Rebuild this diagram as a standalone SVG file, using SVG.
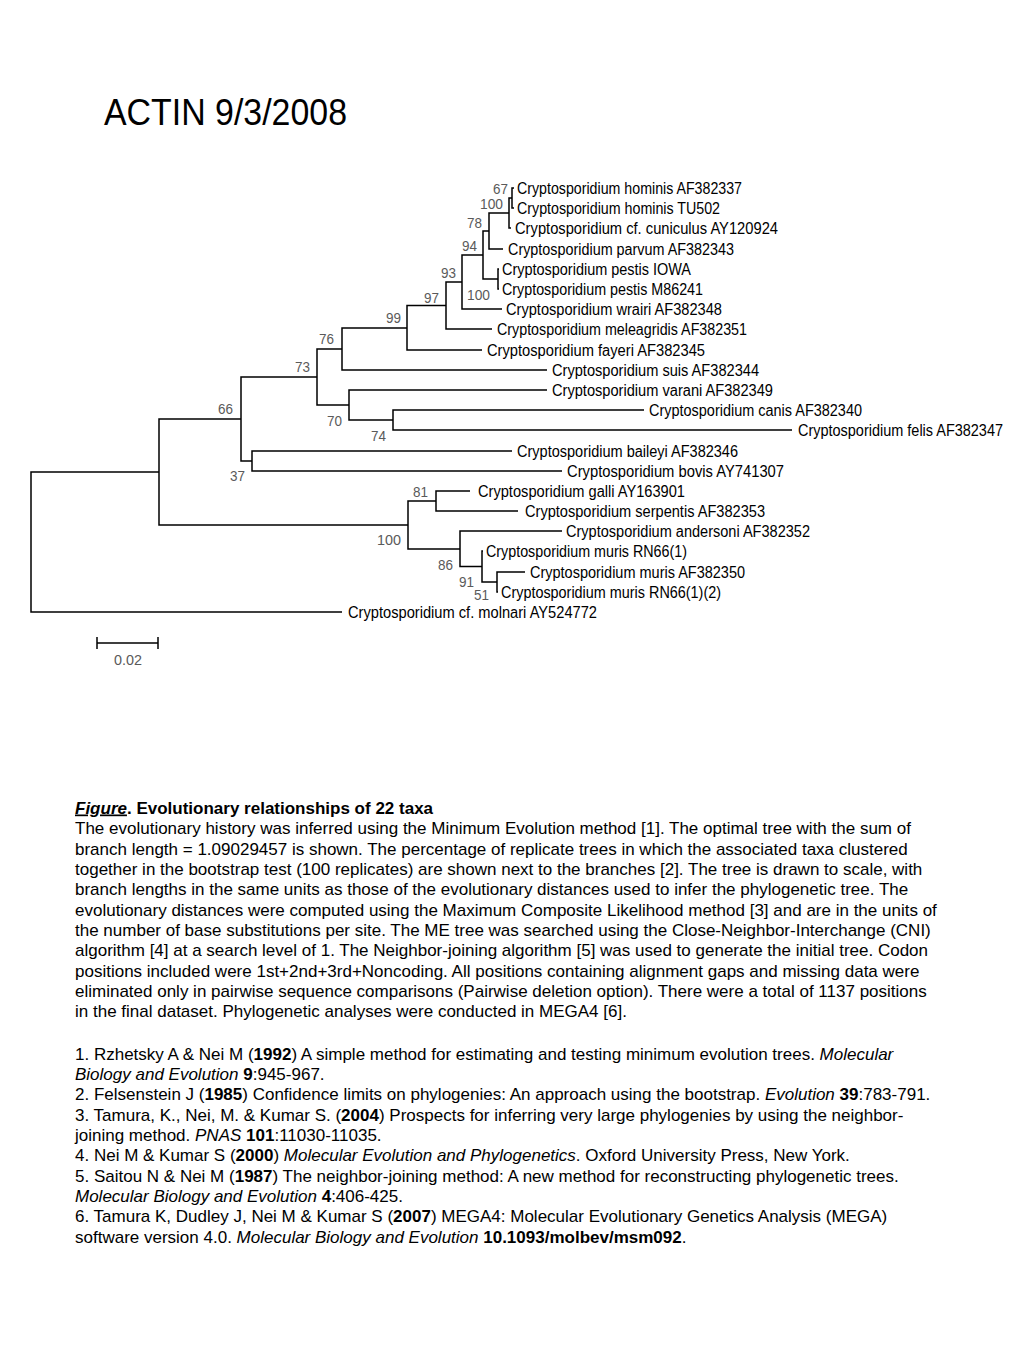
<svg xmlns="http://www.w3.org/2000/svg" width="1024" height="1365" viewBox="0 0 1024 1365">
<style>
text{font-family:"Liberation Sans",Arial,sans-serif;}
.title{font-size:36px;fill:#000;}
.leaf{font-size:16px;fill:#000;}
.bs{font-size:15.5px;fill:#5a5a5a;text-anchor:end;}
.cap{font-size:17px;fill:#000;}
.b{font-weight:bold;}
.i{font-style:italic;}
.tree{fill:none;stroke:#000;stroke-width:1.5;}
</style>
<rect width="1024" height="1365" fill="#fff"/>
<text class="title" x="104" y="125" textLength="243" lengthAdjust="spacingAndGlyphs">ACTIN 9/3/2008</text>

<g id="connectors" class="tree">
<path d="M514 188H512V208H514"/>
<path d="M512 198H509V228H511"/>
<path d="M509 213H489V249H503"/>
<path d="M499 269H498V289H499"/>
<path d="M489 231H483V279H498"/>
<path d="M483 255H462V309H502"/>
<path d="M462 282H446V329H492"/>
<path d="M446 305.5H407V350H482"/>
<path d="M407 328H342V370H547"/>
<path d="M644 410H393V430H792"/>
<path d="M547 390H349V420H393"/>
<path d="M342 349H317V405H349"/>
<path d="M512 451H252V471H562"/>
<path d="M317 377H241V461H252"/>
<path d="M470 491H436V511H518"/>
<path d="M525 572H497V592H498"/>
<path d="M483 551H482V582H497"/>
<path d="M562 531H460V566.5H482"/>
<path d="M436 501H408V549H460"/>
<path d="M241 419H159V525H408"/>
<path d="M159 472H31V612H342"/>
</g>

<g id="taxa">
<g id="t-hominis-AF382337"><text class="leaf" x="517" y="194" textLength="225" lengthAdjust="spacingAndGlyphs">Cryptosporidium hominis AF382337</text></g>
<g id="t-hominis-TU502"><text class="leaf" x="517" y="214" textLength="203" lengthAdjust="spacingAndGlyphs">Cryptosporidium hominis TU502</text></g>
<g id="t-cuniculus"><text class="leaf" x="515" y="234" textLength="263" lengthAdjust="spacingAndGlyphs">Cryptosporidium cf. cuniculus AY120924</text></g>
<g id="t-parvum"><text class="leaf" x="508" y="255" textLength="226" lengthAdjust="spacingAndGlyphs">Cryptosporidium parvum AF382343</text></g>
<g id="t-pestis-IOWA"><text class="leaf" x="502" y="275" textLength="189" lengthAdjust="spacingAndGlyphs">Cryptosporidium pestis IOWA</text></g>
<g id="t-pestis-M86241"><text class="leaf" x="502" y="295" textLength="201" lengthAdjust="spacingAndGlyphs">Cryptosporidium pestis M86241</text></g>
<g id="t-wrairi"><text class="leaf" x="506" y="315" textLength="216" lengthAdjust="spacingAndGlyphs">Cryptosporidium wrairi AF382348</text></g>
<g id="t-meleagridis"><text class="leaf" x="497" y="335" textLength="250" lengthAdjust="spacingAndGlyphs">Cryptosporidium meleagridis AF382351</text></g>
<g id="t-fayeri"><text class="leaf" x="487" y="356" textLength="218" lengthAdjust="spacingAndGlyphs">Cryptosporidium fayeri AF382345</text></g>
<g id="t-suis"><text class="leaf" x="552" y="376" textLength="207" lengthAdjust="spacingAndGlyphs">Cryptosporidium suis AF382344</text></g>
<g id="t-varani"><text class="leaf" x="552" y="396" textLength="221" lengthAdjust="spacingAndGlyphs">Cryptosporidium varani AF382349</text></g>
<g id="t-canis"><text class="leaf" x="649" y="416" textLength="213" lengthAdjust="spacingAndGlyphs">Cryptosporidium canis AF382340</text></g>
<g id="t-felis"><text class="leaf" x="798" y="436" textLength="205" lengthAdjust="spacingAndGlyphs">Cryptosporidium felis AF382347</text></g>
<g id="t-baileyi"><text class="leaf" x="517" y="457" textLength="221" lengthAdjust="spacingAndGlyphs">Cryptosporidium baileyi AF382346</text></g>
<g id="t-bovis"><text class="leaf" x="567" y="477" textLength="217" lengthAdjust="spacingAndGlyphs">Cryptosporidium bovis AY741307</text></g>
<g id="t-galli"><text class="leaf" x="478" y="497" textLength="207" lengthAdjust="spacingAndGlyphs">Cryptosporidium galli AY163901</text></g>
<g id="t-serpentis"><text class="leaf" x="525" y="517" textLength="240" lengthAdjust="spacingAndGlyphs">Cryptosporidium serpentis AF382353</text></g>
<g id="t-andersoni"><text class="leaf" x="566" y="537" textLength="244" lengthAdjust="spacingAndGlyphs">Cryptosporidium andersoni AF382352</text></g>
<g id="t-muris-RN66-1"><text class="leaf" x="486" y="557" textLength="201" lengthAdjust="spacingAndGlyphs">Cryptosporidium muris RN66(1)</text></g>
<g id="t-muris-AF382350"><text class="leaf" x="530" y="578" textLength="215" lengthAdjust="spacingAndGlyphs">Cryptosporidium muris AF382350</text></g>
<g id="t-muris-RN66-1-2"><text class="leaf" x="501" y="598" textLength="220" lengthAdjust="spacingAndGlyphs">Cryptosporidium muris RN66(1)(2)</text></g>
<g id="t-molnari"><text class="leaf" x="348" y="618" textLength="249" lengthAdjust="spacingAndGlyphs">Cryptosporidium cf. molnari AY524772</text></g>
</g>

<g id="bootstrap">
<g id="n67"><text class="bs" x="508" y="193.5" textLength="15" lengthAdjust="spacingAndGlyphs">67</text></g>
<g id="n100a"><text class="bs" x="503" y="209" textLength="23" lengthAdjust="spacingAndGlyphs">100</text></g>
<g id="n78"><text class="bs" x="482" y="227.5" textLength="15" lengthAdjust="spacingAndGlyphs">78</text></g>
<g id="n94"><text class="bs" x="477" y="250.5" textLength="15" lengthAdjust="spacingAndGlyphs">94</text></g>
<g id="n93"><text class="bs" x="456" y="277.5" textLength="15" lengthAdjust="spacingAndGlyphs">93</text></g>
<g id="n100b"><text class="bs" x="490" y="300" textLength="23" lengthAdjust="spacingAndGlyphs">100</text></g>
<g id="n97"><text class="bs" x="439" y="302.5" textLength="15" lengthAdjust="spacingAndGlyphs">97</text></g>
<g id="n99"><text class="bs" x="401" y="322.5" textLength="15" lengthAdjust="spacingAndGlyphs">99</text></g>
<g id="n76"><text class="bs" x="334" y="343.5" textLength="15" lengthAdjust="spacingAndGlyphs">76</text></g>
<g id="n73"><text class="bs" x="310" y="371.5" textLength="15" lengthAdjust="spacingAndGlyphs">73</text></g>
<g id="n66"><text class="bs" x="233" y="413.5" textLength="15" lengthAdjust="spacingAndGlyphs">66</text></g>
<g id="n70"><text class="bs" x="342" y="425.5" textLength="15" lengthAdjust="spacingAndGlyphs">70</text></g>
<g id="n74"><text class="bs" x="386" y="440.5" textLength="15" lengthAdjust="spacingAndGlyphs">74</text></g>
<g id="n37"><text class="bs" x="245" y="481" textLength="15" lengthAdjust="spacingAndGlyphs">37</text></g>
<g id="n100c"><text class="bs" x="401" y="544.5" textLength="24" lengthAdjust="spacingAndGlyphs">100</text></g>
<g id="n81"><text class="bs" x="428" y="496.5" textLength="15" lengthAdjust="spacingAndGlyphs">81</text></g>
<g id="n86"><text class="bs" x="453" y="569.5" textLength="15" lengthAdjust="spacingAndGlyphs">86</text></g>
<g id="n91"><text class="bs" x="474" y="586.5" textLength="15" lengthAdjust="spacingAndGlyphs">91</text></g>
<g id="n51"><text class="bs" x="489" y="600" textLength="15" lengthAdjust="spacingAndGlyphs">51</text></g>
</g>

<g id="scale-bar">
<path class="tree" d="M97 643H158M97 637V649M158 637V649"/>
<text class="bs" x="142" y="664.5" textLength="28" lengthAdjust="spacingAndGlyphs">0.02</text>
</g>

<g id="caption" class="cap">
<text x="75" y="813.5"><tspan class="b i" text-decoration="underline">Figure</tspan><tspan class="b">. Evolutionary relationships of 22 taxa</tspan></text>
<text x="75" y="834">The evolutionary history was inferred using the Minimum Evolution method [1]. The optimal tree with the sum of</text>
<text x="75" y="854.5">branch length = 1.09029457 is shown. The percentage of replicate trees in which the associated taxa clustered</text>
<text x="75" y="874.8">together in the bootstrap test (100 replicates) are shown next to the branches [2]. The tree is drawn to scale, with</text>
<text x="75" y="895.1">branch lengths in the same units as those of the evolutionary distances used to infer the phylogenetic tree. The</text>
<text x="75" y="915.5">evolutionary distances were computed using the Maximum Composite Likelihood method [3] and are in the units of</text>
<text x="75" y="935.8">the number of base substitutions per site. The ME tree was searched using the Close-Neighbor-Interchange (CNI)</text>
<text x="75" y="956.1">algorithm [4] at a search level of 1. The Neighbor-joining algorithm [5] was used to generate the initial tree. Codon</text>
<text x="75" y="976.5">positions included were 1st+2nd+3rd+Noncoding. All positions containing alignment gaps and missing data were</text>
<text x="75" y="996.8">eliminated only in pairwise sequence comparisons (Pairwise deletion option). There were a total of 1137 positions</text>
<text x="75" y="1017.1">in the final dataset. Phylogenetic analyses were conducted in MEGA4 [6].</text>
</g>

<g id="references" class="cap">
<text x="75" y="1059.5">1. Rzhetsky A &amp; Nei M (<tspan class="b">1992</tspan>) A simple method for estimating and testing minimum evolution trees. <tspan class="i">Molecular</tspan></text>
<text x="75" y="1079.8"><tspan class="i">Biology and Evolution</tspan> <tspan class="b">9</tspan>:945-967.</text>
<text x="75" y="1100.2">2. Felsenstein J (<tspan class="b">1985</tspan>) Confidence limits on phylogenies: An approach using the bootstrap. <tspan class="i">Evolution</tspan> <tspan class="b">39</tspan>:783-791.</text>
<text x="75" y="1120.5">3. Tamura, K., Nei, M. &amp; Kumar S. (<tspan class="b">2004</tspan>) Prospects for inferring very large phylogenies by using the neighbor-</text>
<text x="75" y="1140.8">joining method. <tspan class="i">PNAS</tspan> <tspan class="b">101</tspan>:11030-11035.</text>
<text x="75" y="1161.2">4. Nei M &amp; Kumar S (<tspan class="b">2000</tspan>) <tspan class="i">Molecular Evolution and Phylogenetics</tspan>. Oxford University Press, New York.</text>
<text x="75" y="1181.5">5. Saitou N &amp; Nei M (<tspan class="b">1987</tspan>) The neighbor-joining method: A new method for reconstructing phylogenetic trees.</text>
<text x="75" y="1201.8"><tspan class="i">Molecular Biology and Evolution</tspan> <tspan class="b">4</tspan>:406-425.</text>
<text x="75" y="1222.2">6. Tamura K, Dudley J, Nei M &amp; Kumar S (<tspan class="b">2007</tspan>) MEGA4: Molecular Evolutionary Genetics Analysis (MEGA)</text>
<text x="75" y="1242.5">software version 4.0. <tspan class="i">Molecular Biology and Evolution</tspan> <tspan class="b">10.1093/molbev/msm092</tspan>.</text>
</g>
</svg>
